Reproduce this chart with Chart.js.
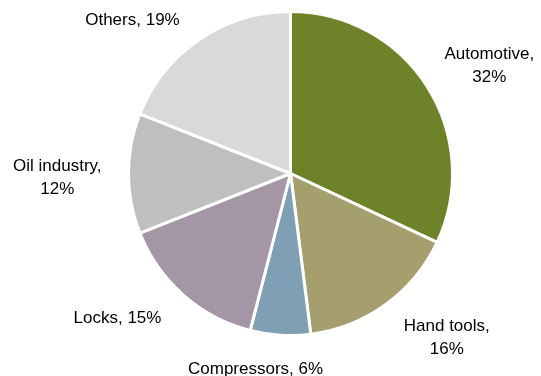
<!DOCTYPE html>
<html>
<head>
<meta charset="utf-8">
<script src="https://cdn.jsdelivr.net/npm/chart.js@4/dist/chart.umd.min.js"></script>
<style>
  html, body { margin: 0; padding: 0; background: #fff; }
  #wrap { width: 541px; height: 376px; }
</style>
</head>
<body>
<div id="wrap"><canvas id="pie" width="541" height="376"></canvas></div>
<script>
// 산업별 비중 (%)
const categories = ["Automotive", "Hand tools", "Compressors", "Locks", "Oil industry", "Others"];
const shares = [32, 16, 6, 15, 12, 19];
const wrapLabel = [true, true, false, false, true, false];
const sliceColors = ["#6E8229", "#A59F6D", "#7F9FB4", "#A496A4", "#BFBFBF", "#D9D9D9"];
// 라벨 미세 위치 보정 (px)
const labelNudge = [[7, 9], [11, 1], [-24, 11], [-14, 3], [-15, 4], [-13, 2]];

const FONT = "17px 'Liberation Sans', Arial, sans-serif";
const LINE_H = 23;

// 조각 바깥쪽에 "이름, 값%" 라벨 — 여러 줄이면 블록 안에서 가운데 정렬
const outsideLabels = {
  id: "outsideLabels",
  afterDatasetsDraw(chart) {
    const ctx = chart.ctx;
    const meta = chart.getDatasetMeta(0);
    ctx.save();
    ctx.font = FONT;
    ctx.fillStyle = "#000";
    ctx.textBaseline = "middle";
    meta.data.forEach((arc, i) => {
      const { x, y, startAngle, endAngle, outerRadius } = arc.getProps(["x", "y", "startAngle", "endAngle", "outerRadius"], true);
      const mid = (startAngle + endAngle) / 2;
      const cos = Math.cos(mid), sin = Math.sin(mid);
      const r = outerRadius + 12;
      const px = x + r * cos, py = y + r * sin;

      const lines = wrapLabel[i]
        ? [categories[i] + ",", shares[i] + "%"]
        : [categories[i] + ", " + shares[i] + "%"];
      const w = Math.max(...lines.map(l => ctx.measureText(l).width));
      const h = lines.length * LINE_H;

      let left = px - w / 2;
      if (cos > 0.3) left = px;
      else if (cos < -0.3) left = px - w;
      let top = py - h / 2;
      if (sin > 0.3) top = py;
      else if (sin < -0.3) top = py - h;
      left += labelNudge[i][0];
      top += labelNudge[i][1];

      ctx.textAlign = "center";
      lines.forEach((l, k) => ctx.fillText(l, left + w / 2, top + LINE_H * (k + 0.5)));
    });
    ctx.restore();
  }
};

new Chart(document.getElementById("pie").getContext("2d"), {
  type: "pie",
  data: {
    labels: categories,
    datasets: [{
      data: shares,
      backgroundColor: sliceColors,
      borderColor: "#fff",
      borderWidth: 3
    }]
  },
  options: {
    responsive: false,
    animation: false,
    layout: { padding: { top: 10, bottom: 39, left: 127, right: 87 } },
    plugins: { legend: { display: false }, tooltip: { enabled: false } }
  },
  plugins: [outsideLabels]
});
</script>
</body>
</html>
